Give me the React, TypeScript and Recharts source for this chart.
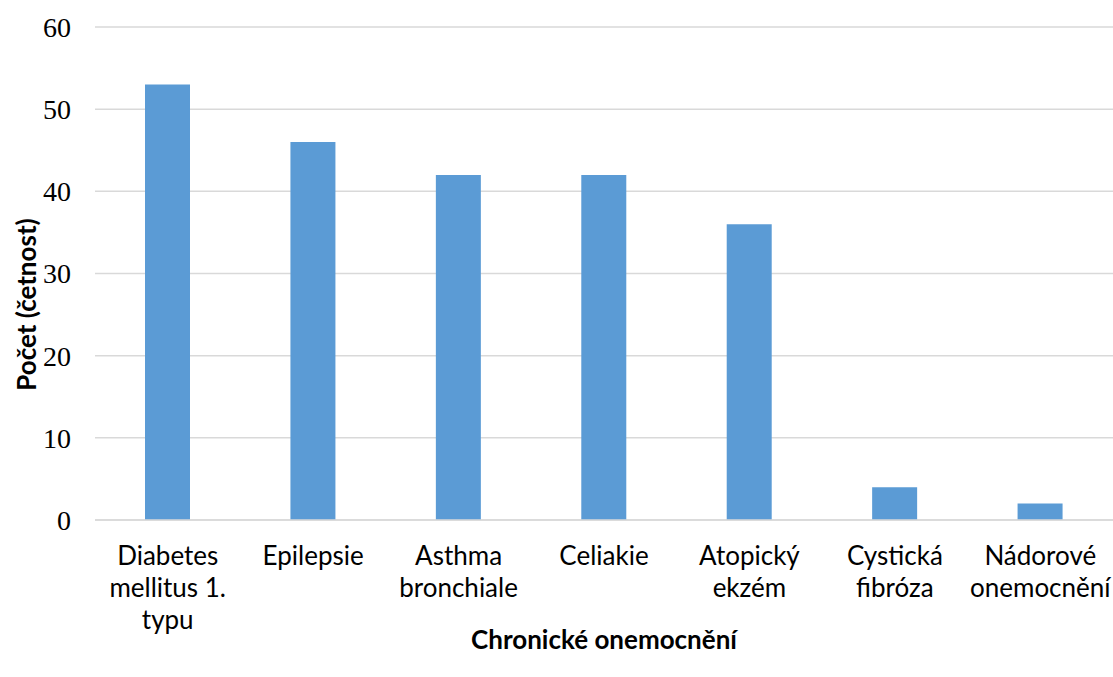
import { useEffect } from "react";
import { BarChart, Bar, XAxis, YAxis, CartesianGrid } from "recharts";

const categories = [
  "Diabetes\nmellitus 1.\ntypu",
  "Epilepsie",
  "Asthma\nbronchiale",
  "Celiakie",
  "Atopický\nekzém",
  "Cystická\nfibróza",
  "Nádorové\nonemocnění",
];
const counts = [53, 46, 42, 42, 36, 4, 2];
const yTicks = [0, 10, 20, 30, 40, 50, 60];

const data = categories.map((name, i) => ({ name, count: counts[i] }));

const sans = "Lato, 'Open Sans', sans-serif";

function CategoryTick({ x, y, payload }: any) {
  const lines = String(payload.value).split("\n");
  return (
    <text x={x} y={y} textAnchor="middle" fill="#000" fontFamily={sans} fontSize={26}>
      {lines.map((line, i) => (
        <tspan key={i} x={x} dy={i === 0 ? 37 : 32}>
          {line}
        </tspan>
      ))}
    </text>
  );
}

function YTitle({ viewBox }: any) {
  const cx = viewBox.x + 26;
  const cy = viewBox.y + viewBox.height / 2 + 31;
  return (
    <text
      x={cx}
      y={cy}
      transform={`rotate(-90 ${cx} ${cy})`}
      textAnchor="middle"
      dominantBaseline="central"
      fill="#000"
      fontFamily={sans}
      fontWeight={700}
      fontSize={26}
    >
      Počet (četnost)
    </text>
  );
}

export default function App() {
  useEffect(() => {
    document.body.style.margin = "0";
  }, []);

  return (
    <div style={{ position: "absolute", left: 0, top: 0, background: "#fff" }}>
      <BarChart
        width={1113}
        height={677}
        data={data}
        margin={{ top: 27, right: 0, left: 0, bottom: 0 }}
      >
        <CartesianGrid vertical={false} stroke="#d9d9d9" strokeWidth={1.5} />
        <XAxis
          dataKey="name"
          axisLine={{ stroke: "#d9d9d9", strokeWidth: 1.5 }}
          tickLine={false}
          interval={0}
          tick={<CategoryTick />}
          height={157}
          label={{
            value: "Chronické onemocnění",
            position: "insideBottom",
            offset: 28,
            fill: "#000",
            fontFamily: sans,
            fontWeight: 700,
            fontSize: 26,
          }}
        />
        <YAxis
          domain={[0, 60]}
          ticks={yTicks}
          width={95}
          axisLine={false}
          tickLine={false}
          tickSize={0}
          tickMargin={24}
          tick={{ fill: "#000", fontFamily: "'Liberation Serif', serif", fontSize: 28 }}
          label={<YTitle />}
        />
        <Bar dataKey="count" fill="#5b9bd5" barSize={45} isAnimationActive={false} />
      </BarChart>
    </div>
  );
}
